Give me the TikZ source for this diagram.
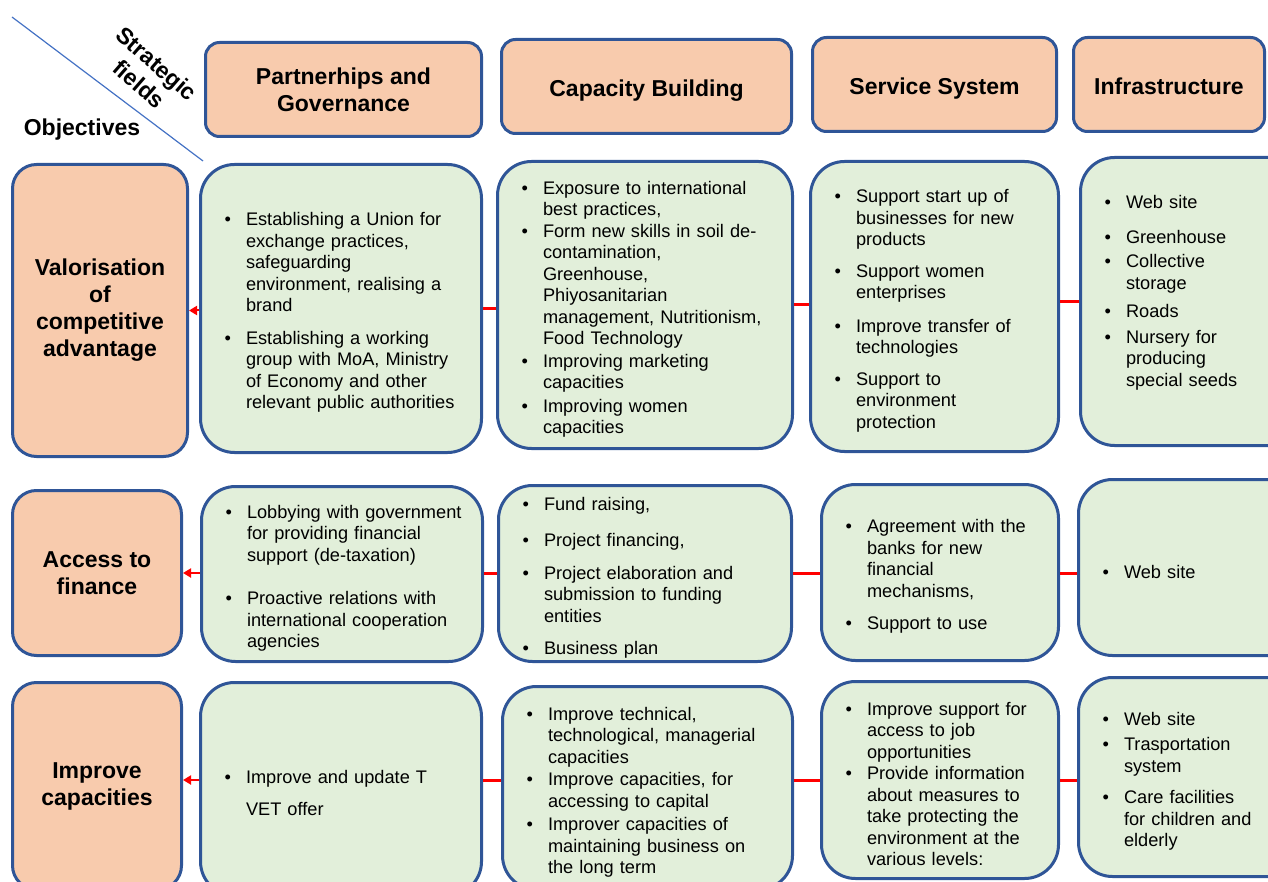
\documentclass[tikz,border=0pt]{standalone}
\usepackage{fontspec}
\setmainfont{Liberation Sans}
\usetikzlibrary{positioning, arrows.meta}
\definecolor{boxblue}{HTML}{2F5597}
\definecolor{headorange}{HTML}{F8CBAD}
\definecolor{cellgreen}{HTML}{E2EFDA}
\definecolor{diagblue}{HTML}{4472C4}
\newcommand{\cellfont}{\fontsize{18.2}{21.5}\selectfont}
\newcommand{\headfont}{\fontsize{23}{27}\selectfont\bfseries}
% bullet list for the cells, no extra space between items
\newenvironment{points}{\begin{list}{\textbullet}{%
    \setlength{\leftmargin}{30.5pt}\setlength{\labelwidth}{18.5pt}\setlength{\labelsep}{3pt}%
    \setlength{\itemsep}{0pt}\setlength{\parsep}{0pt}\setlength{\topsep}{0pt}\setlength{\partopsep}{0pt}%
    \renewcommand{\makelabel}[1]{##1\hfil}}\raggedright}{\end{list}}
\newcommand{\itm}[1][0pt]{\vspace{#1}\item}
\tikzset{
    field/.style={rectangle, draw=boxblue, line width=3pt, fill=headorange, rounded corners=14pt, minimum height=94pt, align=center, font=\headfont},
    oneline/.style={text height=20pt, text depth=0pt},
    objective/.style={rectangle, draw=boxblue, line width=3pt, fill=headorange, rounded corners=24pt, align=center, font=\headfont},
    measures/.style={rectangle, draw=boxblue, line width=3pt, fill=cellgreen, rounded corners=34pt, inner xsep=15pt, inner ysep=0pt, font=\cellfont},
    link/.style={draw=red, line width=3pt},
    arrow/.style={draw=red, line width=2pt, -{Triangle[length=8pt,width=9pt]}}
}

\begin{document}
\begin{tikzpicture}[x=1pt, y=-1pt]
    \useasboundingbox (0,0) rectangle (1268,882);
    \clip (0,0) rectangle (1268,882);

    % table corner
    \draw [diagblue, line width=1.2pt] (12,17) -- (203,161);
    \node (sf) [rotate=-41, align=center, font=\headfont] at (148,74) {Strategic\\fields};
    \node (obj) [font=\headfont] at (82,130) {Objectives};

    % strategic fields
    \node (h1) [field, minimum width=276pt] at (343.5,89.5) {Partnerhips and\\Governance};
    \node (h2) [field, oneline, minimum width=290pt, right=17pt of h1, yshift=3pt] {Capacity Building};
    \node (h3) [field, oneline, minimum width=244pt, right=18pt of h2, yshift=2pt] {Service System};
    \node (h4) [field, oneline, minimum width=191pt, right=14pt of h3] {Infrastructure};

    % objectives
    \node (o1) [objective, minimum width=175pt, minimum height=292pt] at (100,310.5) {Valorisation\\of\\competitive\\advantage};
    \node (o2) [objective, minimum width=169pt, minimum height=165pt] at (97,573) {Access to\\finance};
    \node (o3) [objective, minimum width=169pt, minimum height=207pt] at (97,786) {Improve\\capacities};

    % first row
    \node (b11) [measures, text width=251pt, minimum height=288pt] at (341,308.5) {\begin{points}
        \itm Establishing a Union for\\exchange practices,\\safeguarding\\environment, realising a\\brand
        \itm[11pt] Establishing a working\\group with MoA, Ministry\\of Economy and other\\relevant public authorities
        \end{points}};
    \node (b12) [measures, text width=265pt, minimum height=287pt, right=13pt of b11, yshift=3.5pt] {\begin{points}
        \itm Exposure to international\\best practices,
        \itm Form new skills in soil de-\\contamination,\\Greenhouse,\\Phiyosanitarian\\management, Nutritionism,\\Food Technology
        \itm[1pt] Improving marketing\\capacities
        \itm[2pt] Improving women\\capacities
        \end{points}};
    \node (b13) [measures, text width=218pt, minimum height=290pt, right=15pt of b12, yshift=-1.5pt] {\begin{points}
        \itm Support start up of\\businesses for new\\products
        \itm[10pt] Support women\\enterprises
        \itm[12pt] Improve transfer of\\technologies
        \itm[10pt] Support to\\environment\\protection
        \end{points}};
    \node (b14) [measures, text width=197pt, minimum height=288pt, right=19pt of b13, yshift=5pt] {\begin{points}
        \itm Web site
        \itm[13pt] Greenhouse
        \itm[3pt] Collective\\storage
        \itm[7pt] Roads
        \itm[4pt] Nursery for\\producing\\special seeds\vspace{26pt}
        \end{points}};

    % second row
    \node (b21) [measures, text width=251pt, minimum height=175pt] at (342,574) {\begin{points}
        \itm Lobbying with government\\for providing financial\\support (de-taxation)
        \itm[22pt] Proactive relations with\\international cooperation\\agencies
        \end{points}};
    \node (b22) [measures, text width=263pt, minimum height=176pt, right=13pt of b21, yshift=0.5pt] {\begin{points}
        \itm Fund raising,
        \itm[15pt] Project financing,
        \itm[11pt] Project elaboration and\\submission to funding\\entities
        \itm[11pt] Business plan
        \end{points}};
    \node (b23) [measures, text width=207pt, minimum height=176pt, right=27pt of b22, yshift=1pt] {\begin{points}
        \itm Agreement with the\\banks for new\\financial\\mechanisms,
        \itm[11pt] Support to use
        \end{points}};
    \node (b24) [measures, text width=197pt, minimum height=176pt, right=17pt of b23, yshift=5pt] {\begin{points}
        \itm Web site
        \end{points}};

    % third row
    \node (b31) [measures, text width=251pt, minimum height=213pt] at (341,789) {\begin{points}
        \itm Improve and update T\\[10pt]VET offer
        \end{points}};
    \node (b32) [measures, text width=260pt, minimum height=203pt, right=18pt of b31, yshift=1pt] {\begin{points}
        \itm Improve technical,\\technological, managerial\\capacities
        \itm[1pt] Improve capacities, for\\accessing to capital
        \itm[2pt] Improver capacities of\\maintaining business on\\the long term
        \end{points}};
    \node (b33) [measures, text width=207pt, minimum height=197pt, right=26pt of b32, yshift=8pt] {\begin{points}
        \itm Improve support for\\access to job\\opportunities
        \itm Provide information\\about measures to\\take protecting the\\environment at the\\various levels:
        \end{points}};
    \node (b34) [measures, text width=197pt, minimum height=199pt, right=17pt of b33, yshift=3pt] {\begin{points}
        \itm Web site
        \itm[4pt] Trasportation\\system
        \itm[10pt] Care facilities\\for children and\\elderly
        \end{points}};

    % links along each row
    \draw [link] (b11.east) -- (b11.east -| b12.west);
    \draw [link] (b12.east) -- (b12.east -| b13.west);
    \draw [link] (b13.east |- b14.west) -- (b14.west);
    \draw [arrow] (b11.west |- o1.east) -- (o1.east);

    \draw [link] (b21.east |- o2.east) -- (b22.west |- o2.east);
    \draw [link] (b22.east |- o2.east) -- (b23.west |- o2.east);
    \draw [link] (b23.east |- o2.east) -- (b24.west |- o2.east);
    \draw [arrow] (b21.west |- o2.east) -- (o2.east);

    \draw [link] (b31.east |- b33.west) -- (b32.west |- b33.west);
    \draw [link] (b32.east |- b33.west) -- (b33.west);
    \draw [link] (b33.east) -- (b34.west |- b33.east);
    \draw [arrow] (b31.west |- b33.west) -- (o3.east |- b33.west);
\end{tikzpicture}
\end{document}
